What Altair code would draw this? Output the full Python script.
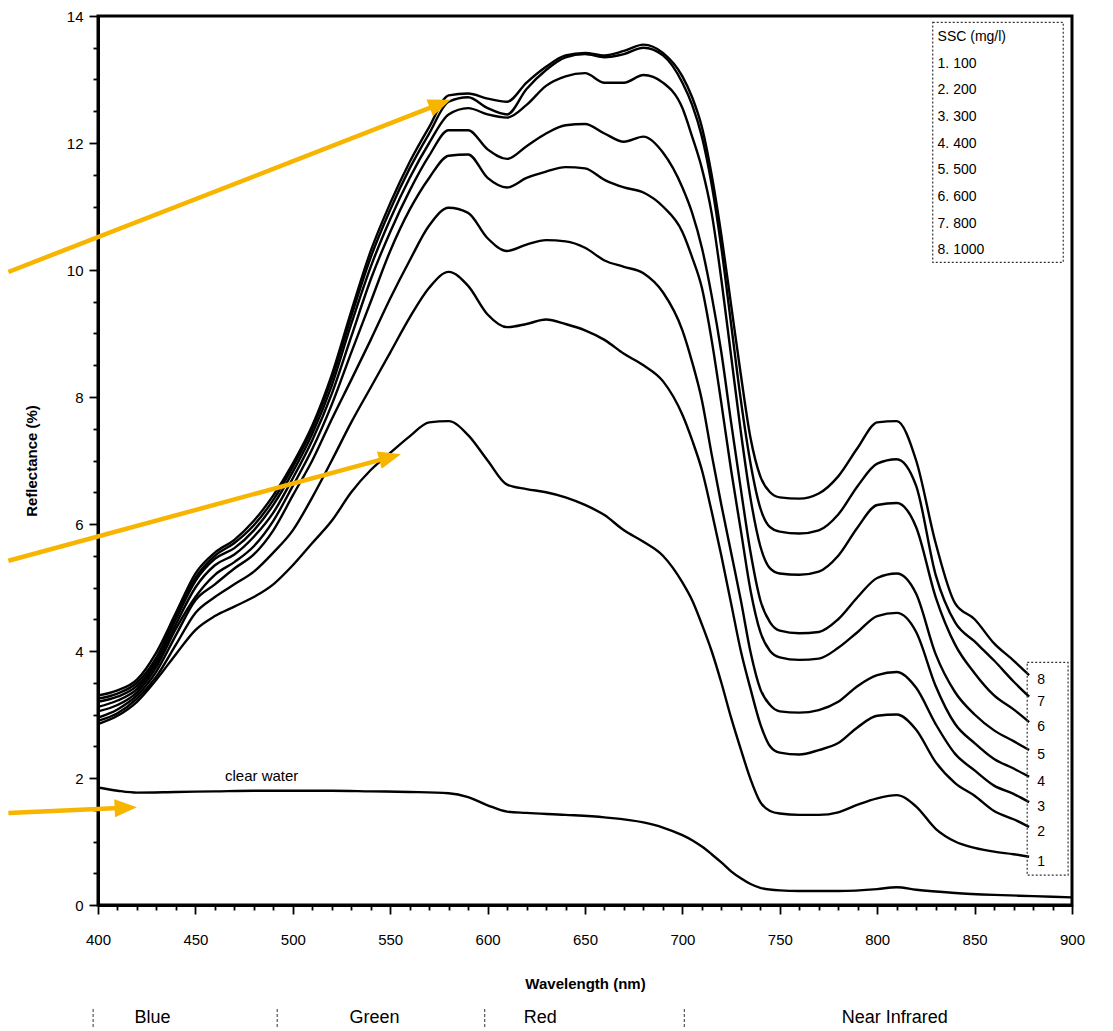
import math
import altair as alt
import pandas as pd

# ---------------- data ----------------
WAVELENGTH = [400, 410, 420, 430, 440, 450, 460, 470, 480, 490,
              500, 510, 520, 530, 540, 550, 560, 570, 580, 590,
              600, 610, 620, 630, 640, 650, 660, 670, 680, 690,
              700, 705, 710, 715, 720, 725, 730, 735, 740, 745,
              750, 760, 770, 780, 790, 800, 810, 820, 830, 840,
              850, 860, 870, 878]

R1 = [2.85, 2.98, 3.2, 3.55, 3.95, 4.33, 4.55, 4.7, 4.85, 5.05,
      5.35, 5.7, 6.05, 6.5, 6.85, 7.12, 7.38, 7.6, 7.62, 7.4,
      7.0, 6.62, 6.55, 6.5, 6.42, 6.3, 6.14, 5.9, 5.72, 5.5,
      5.08, 4.8, 4.42, 4.0, 3.5, 2.95, 2.45, 1.98, 1.62, 1.48,
      1.44, 1.42, 1.42, 1.46, 1.58, 1.68, 1.73, 1.55, 1.2, 1.0,
      0.9, 0.84, 0.8, 0.76]
R2 = [2.9, 3.02, 3.25, 3.6, 4.1, 4.6, 4.85, 5.05, 5.25, 5.55,
      5.9, 6.42, 7.0, 7.6, 8.15, 8.7, 9.25, 9.72, 9.97, 9.75,
      9.3, 9.1, 9.15, 9.22, 9.15, 9.05, 8.9, 8.68, 8.5, 8.25,
      7.72, 7.32, 6.85, 6.2, 5.5, 4.75, 4.0, 3.4, 2.85, 2.5,
      2.4, 2.37, 2.44, 2.55, 2.8, 2.98, 3.0, 2.76, 2.25, 1.92,
      1.72, 1.48, 1.35, 1.23]
R3 = [2.95, 3.08, 3.3, 3.68, 4.25, 4.8, 5.05, 5.3, 5.52, 5.9,
      6.45, 7.0, 7.65, 8.27, 8.9, 9.55, 10.15, 10.7, 10.98, 10.9,
      10.5, 10.3, 10.4, 10.47, 10.45, 10.35, 10.15, 10.05, 9.95, 9.65,
      9.05, 8.55, 7.95, 7.1, 6.3, 5.55, 4.8, 3.98, 3.4, 3.15,
      3.05, 3.03, 3.07, 3.2, 3.45, 3.62, 3.67, 3.42, 2.85, 2.38,
      2.12, 1.88, 1.75, 1.62]
R4 = [3.05, 3.15, 3.35, 3.75, 4.35, 4.85, 5.2, 5.4, 5.65, 6.05,
      6.6, 7.18, 7.88, 8.7, 9.5, 10.3, 10.95, 11.45, 11.8, 11.82,
      11.45, 11.3, 11.45, 11.55, 11.62, 11.6, 11.42, 11.3, 11.22, 11.0,
      10.6, 10.2, 9.72, 8.9, 7.9, 6.85, 5.9, 4.95, 4.3, 4.0,
      3.9, 3.86, 3.88, 4.05, 4.3, 4.55, 4.6, 4.3, 3.45, 2.85,
      2.55, 2.3, 2.15, 2.02]
R5 = [3.12, 3.22, 3.4, 3.8, 4.42, 5.0, 5.35, 5.52, 5.8, 6.18,
      6.72, 7.32, 8.05, 8.95, 9.85, 10.6, 11.25, 11.8, 12.2, 12.2,
      11.9, 11.75, 11.95, 12.15, 12.28, 12.3, 12.15, 12.02, 12.1, 11.85,
      11.3, 10.9, 10.35, 9.6, 8.7, 7.6, 6.55, 5.55, 4.8, 4.45,
      4.32, 4.28, 4.3, 4.5, 4.85, 5.15, 5.22, 4.9, 3.95, 3.35,
      3.0, 2.75, 2.58, 2.44]
R6 = [3.2, 3.28, 3.45, 3.85, 4.5, 5.1, 5.45, 5.62, 5.9, 6.3,
      6.82, 7.42, 8.18, 9.15, 10.05, 10.8, 11.45, 12.0, 12.45, 12.55,
      12.45, 12.4, 12.6, 12.9, 13.05, 13.1, 12.95, 12.95, 13.07, 12.95,
      12.55, 12.1, 11.6, 10.9, 9.85, 8.65, 7.45, 6.4, 5.65, 5.3,
      5.22, 5.2, 5.25, 5.5, 5.95, 6.3, 6.33, 5.95, 4.85, 4.1,
      3.65, 3.3, 3.08, 2.88]
R7 = [3.25, 3.33, 3.5, 3.9, 4.55, 5.15, 5.5, 5.7, 5.98, 6.38,
      6.9, 7.5, 8.28, 9.27, 10.2, 10.95, 11.6, 12.15, 12.65, 12.72,
      12.55, 12.45, 12.85, 13.15, 13.35, 13.4, 13.35, 13.4, 13.5, 13.38,
      12.95, 12.6, 12.1, 11.35, 10.35, 9.15, 7.95, 6.95, 6.25, 5.95,
      5.88, 5.85, 5.9, 6.15, 6.6, 6.95, 7.02, 6.6, 5.2, 4.45,
      4.15, 3.85, 3.52, 3.28]
R8 = [3.3, 3.38, 3.55, 3.98, 4.6, 5.22, 5.55, 5.75, 6.05, 6.45,
      6.95, 7.55, 8.35, 9.35, 10.3, 11.05, 11.7, 12.25, 12.75, 12.78,
      12.7, 12.65, 12.95, 13.2, 13.38, 13.42, 13.38, 13.45, 13.55, 13.42,
      13.05, 12.72, 12.25, 11.5, 10.55, 9.45, 8.35, 7.35, 6.75, 6.5,
      6.42, 6.4, 6.48, 6.75, 7.2, 7.6, 7.62, 7.0, 5.7, 4.75,
      4.5, 4.12, 3.85, 3.62]

CURVE_IDS = ["1", "2", "3", "4", "5", "6", "7", "8"]
SSC_LEGEND = ["SSC (mg/l)", "1. 100", "2. 200", "3. 300", "4. 400",
              "5. 500", "6. 600", "7. 800", "8. 1000"]

CW_WAVELENGTH = [400, 410, 420, 440, 460, 480, 500, 520, 540, 560,
                 580, 590, 600, 610, 620, 640, 660, 680, 690, 700,
                 705, 710, 715, 720, 725, 730, 735, 740, 750, 760,
                 780, 800, 810, 820, 840, 860, 880, 900]
CLEAR_WATER = [1.85, 1.8, 1.77, 1.78, 1.79, 1.8, 1.8, 1.8, 1.79, 1.78,
               1.76, 1.7, 1.57, 1.47, 1.45, 1.42, 1.38, 1.3, 1.22, 1.1,
               1.02, 0.92, 0.8, 0.67, 0.53, 0.42, 0.33, 0.27, 0.23, 0.22,
               0.22, 0.25, 0.28, 0.24, 0.19, 0.16, 0.14, 0.12]

BANDS = ["Blue", "Green", "Red", "Near Infrared"]
BAND_CENTER = [428, 542, 627, 809]
BAND_EDGES = [397.5, 492, 598.5, 701]

# annotation arrows (start -> tip), in data units
ARROW_START_WL = [354, 354, 354]
ARROW_START_R = [9.97, 5.42, 1.45]
ARROW_TIP_WL = [581, 555.5, 420]
ARROW_TIP_R = [12.68, 7.1, 1.54]

# ---------------- layout ----------------
W, H = 974, 889
X_DOM = [400, 900]
Y_DOM = [0, 14]
PX_PER_NM = W / (X_DOM[1] - X_DOM[0])
PX_PER_R = H / (Y_DOM[1] - Y_DOM[0])
FONT = "Liberation Sans"
ORANGE = "#F7B500"

xs = alt.Scale(domain=X_DOM, nice=False, zero=False)
ys = alt.Scale(domain=Y_DOM, nice=False, zero=True)

# ---------------- tables ----------------
rows = []
for cid, vals in zip(CURVE_IDS, [R1, R2, R3, R4, R5, R6, R7, R8]):
    for w, v in zip(WAVELENGTH, vals):
        rows.append({"wl": w, "refl": v, "curve": cid})
df = pd.DataFrame(rows)
cw_df = pd.DataFrame({"wl": CW_WAVELENGTH, "refl": CLEAR_WATER})
end_df = df.groupby("curve", as_index=False).last()

leg_df = pd.DataFrame({
    "txt": SSC_LEGEND,
    "wl": [831.0] * len(SSC_LEGEND),
    "refl": [13.67 - 0.42 * i for i in range(len(SSC_LEGEND))],
})
box_df = pd.DataFrame({"wl": [828.5, 877.0], "wl2": [895.5, 898.0],
                       "refl": [13.9, 3.82], "refl2": [10.12, 0.47]})

arr_rows = []
for x0, y0, x1, y1 in zip(ARROW_START_WL, ARROW_START_R, ARROW_TIP_WL, ARROW_TIP_R):
    dxp = (x1 - x0) * PX_PER_NM
    dyp = -(y1 - y0) * PX_PER_R
    L = math.hypot(dxp, dyp)
    back = 12.0
    ex = x1 - (dxp / L) * back / PX_PER_NM
    ey = y1 + (dyp / L) * back / PX_PER_R
    ang = math.degrees(math.atan2(dxp, -dyp)) % 360
    arr_rows.append({"wl": x0, "refl": y0, "wl2": ex, "refl2": ey,
                     "twl": x1, "trefl": y1, "ang": ang})
arr_df = pd.DataFrame(arr_rows)

band_df = pd.DataFrame({"band": BANDS, "wl": BAND_CENTER})
sep_df = pd.DataFrame({"wl": BAND_EDGES})

# ---------------- encodings ----------------
x_axis = alt.Axis(
    values=list(range(400, 901, 10)),
    labelExpr="datum.value % 50 === 0 ? datum.label : ''",
    format="d",
    tickSize={"condition": {"test": "datum.value % 50 === 0", "value": 9}, "value": 5},
    labelPadding=18, labelFlush=False, labelOverlap=False,
    title="Wavelength (nm)", titlePadding=29,
    grid=False,
)
y_axis = alt.Axis(
    values=[i * 0.5 for i in range(29)],
    labelExpr="datum.value % 2 === 0 ? format(datum.value, 'd') : ''",
    tickSize={"condition": {"test": "datum.value % 2 === 0", "value": 9}, "value": 5},
    labelPadding=6, labelOverlap=False, labelFlush=False,
    title="Reflectance (%)", titlePadding=27,
    grid=False,
)


def X(field="wl"):
    return alt.X(f"{field}:Q", scale=xs, axis=x_axis)


def Y(field="refl"):
    return alt.Y(f"{field}:Q", scale=ys, axis=y_axis)


lines = alt.Chart(df).mark_line(color="black", strokeWidth=2.4, interpolate="monotone").encode(
    x=X(), y=Y(), detail="curve:N",
)

clear = alt.Chart(cw_df).mark_line(color="black", strokeWidth=2.4, interpolate="monotone").encode(
    x=X(), y=Y()
)

clear_lbl = alt.Chart(pd.DataFrame({"txt": ["clear water"], "wl": [484], "refl": [2.03]})).mark_text(
    font=FONT, fontSize=15, color="black"
).encode(x=X(), y=Y(), text="txt:N")

end_lbl = alt.Chart(end_df).mark_text(
    font=FONT, fontSize=14, color="black", align="left", dx=8, dy=5
).encode(x=X(), y=Y(), text="curve:N")

leg_txt = alt.Chart(leg_df).mark_text(
    font=FONT, fontSize=14, color="black", align="left", baseline="middle"
).encode(x=X(), y=Y(), text="txt:N")

boxes = alt.Chart(box_df).mark_rect(
    fillOpacity=0, stroke="#333333", strokeWidth=1.2, strokeDash=[2, 2]
).encode(x=X(), x2="wl2:Q", y=Y(), y2="refl2:Q")

arrows = alt.Chart(arr_df).mark_rule(color=ORANGE, strokeWidth=4.5).encode(
    x=X(), x2="wl2:Q", y=Y(), y2="refl2:Q"
)
heads = alt.Chart(arr_df).mark_point(
    shape="M0,0L0.8,2L-0.8,2Z", filled=True, color=ORANGE, opacity=1, size=500, strokeWidth=0
).encode(x=X("twl"), y=Y("trefl"), angle=alt.Angle("ang:Q", scale=None))

bands = alt.Chart(band_df).mark_text(font=FONT, fontSize=18, color="black").encode(
    x=X(), y=alt.value(H + 113), text="band:N"
)
seps = alt.Chart(sep_df).mark_rule(color="#555555", strokeWidth=1.2, strokeDash=[3, 2]).encode(
    x=X(), y=alt.value(H + 104), y2=alt.value(H + 122)
)

chart = alt.layer(
    lines, clear, clear_lbl, end_lbl, boxes, leg_txt, arrows, heads, bands, seps
).properties(
    width=W, height=H,
    autosize=alt.AutoSizeParams(type="none"),
    padding={"left": 90, "top": 8, "right": 30, "bottom": 126},
).configure_view(
    stroke="black", strokeWidth=3
).configure_axis(
    labelFont=FONT, labelFontSize=15, labelColor="black",
    titleFont=FONT, titleFontSize=15, titleFontWeight="bold", titleColor="black",
    domainColor="black", domainWidth=3, tickColor="black", tickWidth=1.8,
)

chart.save("out.html", embed_options={"renderer": "svg", "actions": False})
